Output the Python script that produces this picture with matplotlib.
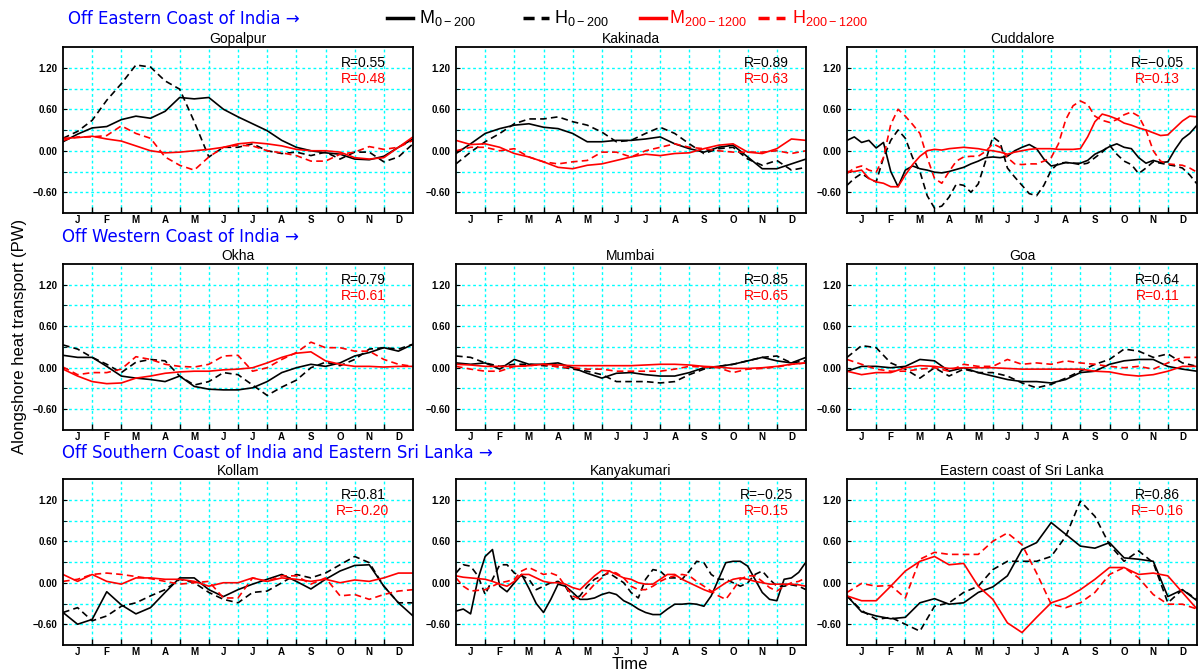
import numpy as np
import matplotlib.pyplot as plt
from matplotlib.lines import Line2D

plt.rcParams['font.family'] = ['Liberation Sans', 'DejaVu Sans']
plt.rcParams['mathtext.fontset'] = 'custom'
plt.rcParams['mathtext.rm'] = 'Liberation Sans'

# time axis in months (0 = start of Jan, 12 = end of Dec)
t_half = np.arange(25) * 0.5
t_qtr = np.arange(49) * 0.25

months = ['J', 'F', 'M', 'A', 'M', 'J', 'J', 'A', 'S', 'O', 'N', 'D']

# ---- Gopalpur
gopalpur_m0 = [0.13, 0.24, 0.33, 0.35, 0.45, 0.50, 0.47, 0.57, 0.77, 0.75, 0.77, 0.60, 0.49,
               0.39, 0.29, 0.15, 0.05, 0.00, -0.03, -0.05, -0.12, -0.13, -0.08, 0.05, 0.17]
gopalpur_h0 = [0.18, 0.28, 0.44, 0.73, 0.97, 1.24, 1.21, 1.01, 0.89, 0.42, -0.09, 0.05, 0.05,
               0.10, 0.00, -0.04, -0.02, -0.07, -0.02, -0.12, -0.02, -0.02, -0.16, -0.09, 0.10]
gopalpur_m200 = [0.18, 0.19, 0.21, 0.17, 0.14, 0.07, 0.00, -0.03, -0.02, 0.00, 0.02, 0.05, 0.10,
                 0.12, 0.10, 0.07, 0.02, 0.00, 0.00, -0.02, -0.10, -0.12, -0.10, 0.05, 0.20]
gopalpur_h200 = [0.15, 0.20, 0.20, 0.22, 0.36, 0.25, 0.18, -0.09, -0.21, -0.28, -0.09, 0.05, 0.08,
                 0.07, 0.00, -0.03, -0.07, -0.15, -0.15, -0.05, -0.02, 0.06, 0.02, 0.05, 0.15]

# ---- Kakinada
kakinada_m0 = [-0.04, 0.10, 0.25, 0.32, 0.37, 0.39, 0.34, 0.32, 0.25, 0.13, 0.13, 0.15, 0.15,
               0.17, 0.20, 0.10, 0.03, -0.02, 0.05, 0.08, -0.09, -0.26, -0.26, -0.19, -0.12]
kakinada_h0 = [-0.19, -0.02, 0.13, 0.25, 0.39, 0.46, 0.46, 0.49, 0.42, 0.37, 0.27, 0.13, 0.15,
               0.25, 0.34, 0.25, 0.10, -0.04, 0.03, 0.05, -0.12, -0.21, -0.14, -0.28, -0.24]
kakinada_m200 = [0.15, 0.09, 0.10, 0.05, -0.04, -0.09, -0.16, -0.24, -0.26, -0.21, -0.19, -0.14, -0.09,
                 -0.05, -0.07, -0.04, -0.03, 0.03, 0.08, 0.10, -0.02, -0.04, 0.03, 0.17, 0.15]
kakinada_h200 = [0.00, 0.05, 0.05, 0.00, 0.03, -0.09, -0.16, -0.19, -0.16, -0.14, -0.02, -0.02, -0.09,
                 0.00, 0.05, 0.10, 0.05, 0.03, 0.00, -0.02, -0.02, -0.02, 0.00, -0.04, 0.00]

# ---- Cuddalore (quarter-month)
cuddalore_m0 = [0.15, 0.20, 0.12, 0.15, 0.04, 0.12, -0.30, -0.52, -0.28, -0.22, -0.26, -0.28, -0.31,
                -0.32, -0.30, -0.27, -0.24, -0.19, -0.15, -0.10, -0.09, -0.10, -0.08, 0.00, 0.05,
                0.09, 0.03, -0.12, -0.22, -0.20, -0.17, -0.18, -0.18, -0.14, -0.05, 0.00, 0.06,
                0.10, 0.05, 0.03, -0.10, -0.18, -0.14, -0.17, -0.16, 0.02, 0.17, 0.25, 0.37]
cuddalore_h0 = [-0.50, -0.40, -0.33, -0.40, -0.45, -0.10, 0.15, 0.30, 0.18, -0.10, -0.30, -0.65, -0.83,
                -0.80, -0.67, -0.48, -0.50, -0.60, -0.48, -0.15, 0.20, 0.12, -0.25, -0.38, -0.50,
                -0.62, -0.65, -0.50, -0.28, -0.18, -0.17, -0.18, -0.20, -0.18, -0.10, -0.02, 0.08,
                -0.05, -0.15, -0.20, -0.33, -0.25, -0.16, -0.18, -0.20, -0.22, -0.25, -0.35, -0.48]
cuddalore_m200 = [-0.30, -0.30, -0.28, -0.40, -0.45, -0.47, -0.52, -0.52, -0.35, -0.20, -0.08, 0.00, 0.02,
                  0.01, 0.03, 0.04, 0.05, 0.04, 0.03, 0.01, 0.00, -0.02, -0.05, -0.02, 0.00,
                  0.02, 0.03, 0.03, 0.03, 0.02, 0.02, 0.02, 0.03, 0.20, 0.42, 0.53, 0.50,
                  0.46, 0.40, 0.37, 0.33, 0.30, 0.26, 0.22, 0.23, 0.33, 0.43, 0.50, 0.49]
cuddalore_h200 = [-0.33, -0.25, -0.22, -0.28, -0.31, -0.10, 0.38, 0.60, 0.50, 0.38, 0.25, -0.10, -0.40,
                  -0.47, -0.30, -0.15, -0.09, -0.08, -0.08, -0.01, 0.10, 0.05, -0.10, -0.19, -0.20,
                  -0.19, -0.19, -0.15, -0.10, 0.10, 0.45, 0.65, 0.72, 0.67, 0.50, 0.44, 0.41,
                  0.45, 0.52, 0.56, 0.50, 0.30, 0.00, -0.15, -0.19, -0.20, -0.21, -0.25, -0.31]

# ---- Okha
okha_m0 = [0.18, 0.15, 0.15, 0.02, -0.12, -0.15, -0.17, -0.20, -0.12, -0.27, -0.31, -0.32, -0.32,
           -0.29, -0.20, -0.07, 0.00, 0.05, 0.02, 0.07, 0.17, 0.22, 0.29, 0.24, 0.34]
okha_h0 = [0.33, 0.27, 0.15, 0.05, -0.07, 0.08, 0.12, 0.10, -0.12, -0.25, -0.20, -0.07, -0.10,
           -0.25, -0.40, -0.28, -0.18, 0.00, 0.08, 0.03, 0.12, 0.27, 0.29, 0.27, 0.34]
okha_m200 = [-0.02, -0.12, -0.20, -0.23, -0.22, -0.15, -0.12, -0.08, -0.06, -0.05, -0.05, -0.03, -0.02,
             0.00, 0.07, 0.15, 0.21, 0.23, 0.10, 0.05, 0.02, 0.02, 0.01, 0.02, 0.02]
okha_h200 = [0.01, -0.10, -0.07, -0.07, -0.02, 0.16, 0.12, 0.05, 0.02, 0.01, 0.05, 0.17, 0.18,
             -0.05, 0.00, 0.12, 0.22, 0.37, 0.29, 0.29, 0.24, 0.24, 0.12, 0.05, 0.02]

# ---- Mumbai
mumbai_m0 = [0.07, 0.05, 0.07, -0.02, 0.12, 0.05, 0.05, 0.07, 0.00, -0.08, -0.15, -0.08, -0.07,
             -0.10, -0.12, -0.12, -0.07, 0.00, 0.02, 0.05, 0.10, 0.15, 0.10, 0.07, 0.15]
mumbai_h0 = [0.17, 0.15, 0.07, 0.02, 0.05, 0.05, 0.03, 0.02, -0.02, -0.05, -0.10, -0.20, -0.20,
             -0.20, -0.22, -0.20, -0.10, -0.02, 0.02, 0.05, 0.10, 0.15, 0.17, 0.07, 0.10]
mumbai_m200 = [0.05, 0.04, 0.02, 0.02, 0.02, 0.03, 0.05, 0.04, 0.03, 0.03, 0.03, 0.03, 0.03,
               0.04, 0.05, 0.05, 0.04, 0.02, 0.01, -0.01, -0.01, 0.00, 0.02, 0.05, 0.07]
mumbai_h200 = [0.02, -0.02, -0.05, -0.05, 0.02, 0.03, 0.05, 0.01, 0.00, -0.02, -0.02, -0.05, -0.05,
               -0.05, -0.05, -0.02, 0.02, 0.01, 0.00, -0.07, -0.02, -0.01, 0.01, 0.05, 0.07]

# ---- Goa
goa_m0 = [-0.05, 0.02, 0.02, 0.00, 0.02, 0.12, 0.10, -0.05, 0.00, -0.07, -0.12, -0.17, -0.20,
          -0.20, -0.22, -0.17, -0.07, -0.05, 0.05, 0.10, 0.12, 0.12, 0.02, -0.02, -0.05]
goa_h0 = [0.15, 0.32, 0.29, 0.07, -0.02, -0.15, 0.00, -0.12, -0.02, -0.07, -0.07, -0.12, -0.22,
          -0.29, -0.24, -0.15, -0.05, 0.05, 0.12, 0.27, 0.24, 0.15, 0.20, 0.07, 0.02]
goa_m200 = [-0.05, -0.10, -0.07, -0.07, 0.00, 0.03, 0.02, -0.01, 0.00, 0.00, 0.00, -0.01, -0.02,
            -0.02, -0.02, -0.02, -0.02, -0.05, -0.06, -0.10, -0.12, -0.10, -0.05, 0.02, 0.02]
goa_h200 = [0.12, 0.05, -0.02, -0.05, -0.05, -0.02, 0.00, -0.05, 0.05, 0.02, 0.02, 0.12, 0.05,
            0.07, 0.05, 0.10, 0.07, 0.05, 0.02, 0.00, 0.02, -0.02, 0.07, 0.15, 0.15]

# ---- Kollam
kollam_m0 = [-0.43, -0.60, -0.53, -0.13, -0.32, -0.45, -0.36, -0.14, 0.07, 0.07, -0.10, -0.20, -0.10,
             -0.02, 0.05, 0.12, 0.02, -0.09, 0.05, 0.17, 0.25, 0.26, -0.05, -0.29, -0.48]
kollam_h0 = [-0.43, -0.36, -0.55, -0.48, -0.34, -0.29, -0.19, -0.10, 0.05, 0.00, -0.14, -0.24, -0.29,
             -0.14, -0.12, 0.00, 0.12, 0.07, 0.14, 0.26, 0.38, 0.29, -0.05, -0.29, -0.29]
kollam_m200 = [0.12, 0.02, 0.12, 0.02, -0.02, 0.07, 0.07, 0.05, 0.05, 0.02, -0.05, 0.00, 0.00,
               0.07, 0.02, 0.07, 0.05, 0.02, 0.05, 0.00, 0.04, 0.02, 0.07, 0.14, 0.14]
kollam_h200 = [0.02, 0.05, 0.12, 0.14, 0.12, 0.09, 0.06, 0.02, -0.02, 0.00, 0.02, -0.22, -0.22,
               0.07, 0.02, 0.10, 0.10, -0.02, 0.07, -0.19, -0.17, -0.24, -0.17, -0.12, -0.10]

# ---- Kanyakumari (quarter-month)
kanya_m0 = [-0.41, -0.38, -0.45, 0.05, 0.38, 0.48, -0.05, -0.13, 0.00, 0.12, -0.08, -0.30, -0.43,
            -0.24, -0.02, -0.05, -0.14, -0.24, -0.24, -0.22, -0.17, -0.14, -0.17, -0.26, -0.31,
            -0.38, -0.43, -0.46, -0.46, -0.38, -0.31, -0.31, -0.30, -0.31, -0.34, -0.19, 0.05,
            0.29, 0.31, 0.31, 0.24, 0.05, -0.14, -0.24, -0.26, 0.05, 0.07, 0.15, 0.30]
kanya_h0 = [0.14, 0.26, 0.24, 0.10, -0.17, 0.05, 0.26, 0.26, 0.14, 0.10, 0.05, -0.10, -0.05,
            0.00, 0.02, -0.05, -0.24, -0.19, -0.05, 0.05, 0.10, 0.14, 0.07, 0.00, -0.14,
            -0.22, 0.05, 0.19, 0.17, 0.07, 0.07, 0.05, 0.17, 0.31, 0.29, 0.12, 0.05,
            0.05, 0.00, -0.05, 0.00, 0.12, 0.17, 0.05, -0.05, -0.05, -0.03, -0.05, -0.10]
kanya_m200 = [0.10, 0.08, 0.07, 0.06, 0.05, 0.02, -0.02, -0.05, 0.02, 0.12, 0.12, 0.07, 0.02,
              0.00, 0.00, -0.02, -0.07, -0.10, 0.00, 0.10, 0.18, 0.17, 0.12, 0.07, 0.05,
              0.00, -0.02, -0.02, 0.05, 0.12, 0.12, 0.05, 0.00, -0.05, -0.10, -0.14, -0.07,
              0.00, 0.05, 0.07, 0.05, 0.02, 0.00, -0.02, -0.02, -0.02, -0.02, -0.03, -0.05]
kanya_h200 = [0.07, -0.05, -0.12, -0.11, -0.10, -0.05, 0.00, 0.02, 0.05, 0.17, 0.22, 0.17, 0.12,
              0.14, 0.10, -0.05, -0.19, -0.24, -0.14, -0.02, 0.07, 0.17, 0.14, 0.07, -0.05,
              -0.10, -0.10, -0.05, 0.02, 0.07, 0.10, 0.12, 0.10, 0.02, -0.05, -0.12, -0.19,
              -0.24, -0.10, 0.05, 0.10, 0.10, 0.02, -0.07, -0.12, -0.05, 0.00, 0.02, 0.07]

# ---- Eastern coast of Sri Lanka
lanka_m0 = [-0.19, -0.42, -0.48, -0.52, -0.50, -0.29, -0.23, -0.31, -0.29, -0.14, -0.06, 0.10, 0.48,
            0.58, 0.87, 0.70, 0.53, 0.50, 0.58, 0.36, 0.34, 0.31, -0.20, -0.10, -0.26]
lanka_h0 = [-0.19, -0.40, -0.53, -0.50, -0.60, -0.70, -0.34, -0.29, -0.14, -0.05, 0.19, 0.31, 0.31,
            0.31, 0.38, 0.67, 1.18, 0.96, 0.55, 0.31, 0.46, 0.29, -0.29, -0.10, -0.24]
lanka_m200 = [-0.19, -0.26, -0.26, -0.05, 0.17, 0.31, 0.38, 0.26, 0.28, -0.05, -0.24, -0.58, -0.72,
              -0.50, -0.29, -0.22, -0.10, 0.05, 0.22, 0.22, 0.12, 0.14, 0.10, -0.14, -0.38]
lanka_h200 = [-0.14, -0.01, -0.05, -0.04, -0.22, 0.34, 0.44, 0.41, 0.41, 0.41, 0.60, 0.72, 0.55,
              0.14, -0.31, -0.36, -0.29, -0.14, 0.12, 0.22, 0.07, -0.17, -0.31, -0.31, -0.38]

panels = [
    ('Gopalpur', t_half, gopalpur_m0, gopalpur_h0, gopalpur_m200, gopalpur_h200, '0.55', '0.48'),
    ('Kakinada', t_half, kakinada_m0, kakinada_h0, kakinada_m200, kakinada_h200, '0.89', '0.63'),
    ('Cuddalore', t_qtr, cuddalore_m0, cuddalore_h0, cuddalore_m200, cuddalore_h200, '\u22120.05', '0.13'),
    ('Okha', t_half, okha_m0, okha_h0, okha_m200, okha_h200, '0.79', '0.61'),
    ('Mumbai', t_half, mumbai_m0, mumbai_h0, mumbai_m200, mumbai_h200, '0.85', '0.65'),
    ('Goa', t_half, goa_m0, goa_h0, goa_m200, goa_h200, '0.64', '0.11'),
    ('Kollam', t_half, kollam_m0, kollam_h0, kollam_m200, kollam_h200, '0.81', '\u22120.20'),
    ('Kanyakumari', t_qtr, kanya_m0, kanya_h0, kanya_m200, kanya_h200, '\u22120.25', '0.15'),
    ('Eastern coast of Sri Lanka', t_half, lanka_m0, lanka_h0, lanka_m200, lanka_h200, '0.86', '\u22120.16'),
]

W, H = 1198, 672
fig = plt.figure(figsize=(W / 100, H / 100), dpi=100)

col_left = [63, 456, 847]
row_top = [47, 264, 479]
pw, ph = 350, 166
r_x = [0.857, 0.887, 0.887]
dash = (0, (4, 2.5))

for k, (name, t, m0, h0, m200, h200, r1, r2) in enumerate(panels):
    row, col = divmod(k, 3)
    ax = fig.add_axes([col_left[col] / W, 1 - (row_top[row] + ph) / H, pw / W, ph / H])
    ax.plot(t, m0, color='black', lw=1.2)
    ax.plot(t, h0, color='black', lw=1.2, linestyle=dash)
    ax.plot(t, m200, color='red', lw=1.2)
    ax.plot(t, h200, color='red', lw=1.2, linestyle=dash)
    ax.set_xlim(0, 12)
    ax.set_ylim(-0.9, 1.5)
    ax.set_xticks(np.arange(12) + 0.5)
    ax.set_xticklabels(months, fontsize=7, fontweight='bold')
    ax.set_xticks(np.arange(1, 12), minor=True)
    ax.tick_params(axis='x', which='major', length=0, pad=1.5)
    ax.tick_params(axis='x', which='minor', direction='in', length=4, width=1)
    ax.set_yticks([-0.6, 0.0, 0.6, 1.2])
    ax.set_yticklabels(['\u22120.60', '0.00', '0.60', '1.20'], fontsize=7, fontweight='bold')
    ax.set_yticks(np.arange(-0.6, 1.21, 0.3), minor=True)
    ax.tick_params(axis='y', which='both', direction='in', length=3, pad=4)
    for y in np.arange(-0.6, 1.21, 0.3):
        ax.axhline(y, color='#00ffff', lw=1, linestyle=(0, (2, 2)), zorder=0)
    for x in range(1, 12):
        ax.axvline(x, color='#00ffff', lw=1, linestyle=(0, (2, 2)), zorder=0)
    for s in ax.spines.values():
        s.set_linewidth(1.3)
    ax.set_title(name, fontsize=10, pad=3)
    ax.text(r_x[col], 0.905, 'R=' + r1, transform=ax.transAxes, ha='center', va='center',
            fontsize=10, color='black')
    ax.text(r_x[col], 0.81, 'R=' + r2, transform=ax.transAxes, ha='center', va='center',
            fontsize=10, color='red')

# region headers
hdr = dict(color='blue', fontsize=12, va='center', ha='left', family=['DejaVu Sans'])
fig.text(68 / W, 1 - 19 / H, 'Off Eastern Coast of India \u2192', **hdr)
fig.text(62 / W, 1 - 237 / H, 'Off Western Coast of India \u2192', **hdr)
fig.text(62 / W, 1 - 453 / H, 'Off Southern Coast of India and Eastern Sri Lanka \u2192', **hdr)

fig.text(20 / W, 1 - 336 / H, 'Alongshore heat transport (PW)', rotation=90,
         ha='center', va='center', fontsize=12)
fig.text(630 / W, 1 - 672 / H, 'Time', ha='center', va='bottom', fontsize=12)

# legend row at the top: (key start, key end, text start) in pixels
leg_labels = [r'M$_{\mathregular{0-200}}$', r'H$_{\mathregular{0-200}}$',
              r'M$_{\mathregular{200-1200}}$', r'H$_{\mathregular{200-1200}}$']
leg_colors = ['black', 'black', 'red', 'red']
leg_styles = ['-', (0, (3.2, 2)), '-', (0, (3.2, 2))]
leg_pos = [(387, 413, 419), (523, 549, 554), (640, 666, 669), (758, 785, 792)]
ly = 1 - 18 / H
for lab, c, ls, (x0, x1, xt) in zip(leg_labels, leg_colors, leg_styles, leg_pos):
    fig.add_artist(Line2D([x0 / W, x1 / W], [ly, ly], transform=fig.transFigure,
                          color=c, lw=2.5, linestyle=ls))
    fig.text(xt / W, ly, lab, color=c, fontsize=13, ha='left', va='center')

fig.savefig('out.png', dpi=100)
